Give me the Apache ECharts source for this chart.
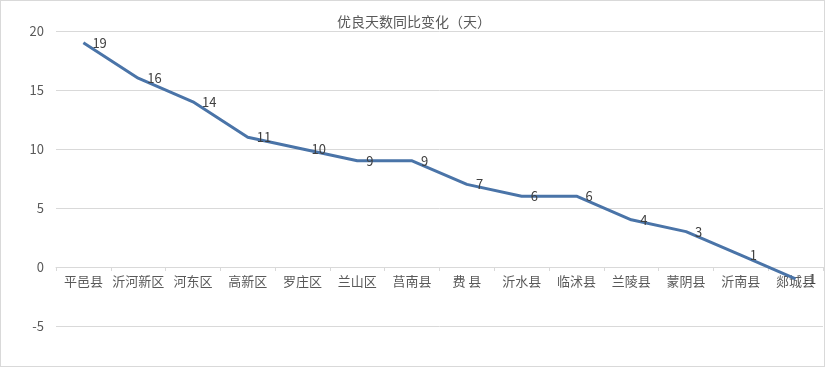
<!DOCTYPE html>
<html><head><meta charset="utf-8">
<script src="https://cdn.jsdelivr.net/npm/echarts@6/dist/echarts.min.js"></script>
<style>
html,body{margin:0;padding:0;background:#fff;}
#c{position:absolute;left:0;top:0;width:823px;height:365px;border:1px solid #d9d9d9;}
</style></head><body>
<div id="c"></div>
<script>
const titleText = '优良天数同比变化（天）';
const categories = ['平邑县','沂河新区','河东区','高新区','罗庄区','兰山区','莒南县','费 县','沂水县','临沭县','兰陵县','蒙阴县','沂南县','郯城县'];
const values = [19,16,14,11,10,9,9,7,6,6,4,3,1,-1];
const yMin = -5, yMax = 20, yStep = 5;

const chart = echarts.init(document.getElementById('c'));
const font = '"Noto Sans CJK SC", "Microsoft YaHei", sans-serif';
chart.setOption({
  animation: false,
  title: {text: titleText, left: 408, top: 9, textAlign: 'center',
    textStyle: {fontFamily: font, fontSize: 14, fontWeight: 'normal', color: '#595959'}},
  grid: {left: 55, right: 1, top: 30, bottom: 40},
  xAxis: {type: 'category', data: categories, boundaryGap: true, offset: -59,
    axisLine: {onZero: false, lineStyle: {color: '#d9d9d9'}},
    axisTick: {show: true, length: 4, lineStyle: {color: '#d9d9d9'}},
    axisLabel: {interval: 0, margin: 8, fontFamily: font, fontSize: 13, color: '#595959'}},
  yAxis: {type: 'value', min: yMin, max: yMax, interval: yStep,
    axisLine: {show: false}, axisTick: {show: false},
    splitLine: {lineStyle: {color: '#d9d9d9'}},
    axisLabel: {margin: 12, fontFamily: font, fontSize: 13, color: '#595959'}},
  series: [{type: 'line', data: values, symbol: 'circle', symbolSize: 2, showSymbol: true,
    itemStyle: {color: 'rgba(0,0,0,0)', borderWidth: 0},
    lineStyle: {color: '#4a74a8', width: 3},
    labelLayout: {hideOverlap: false},
    label: {show: true, position: 'right', distance: 8, fontFamily: font, fontSize: 13, color: '#404040'}}]
});
</script></body></html>
